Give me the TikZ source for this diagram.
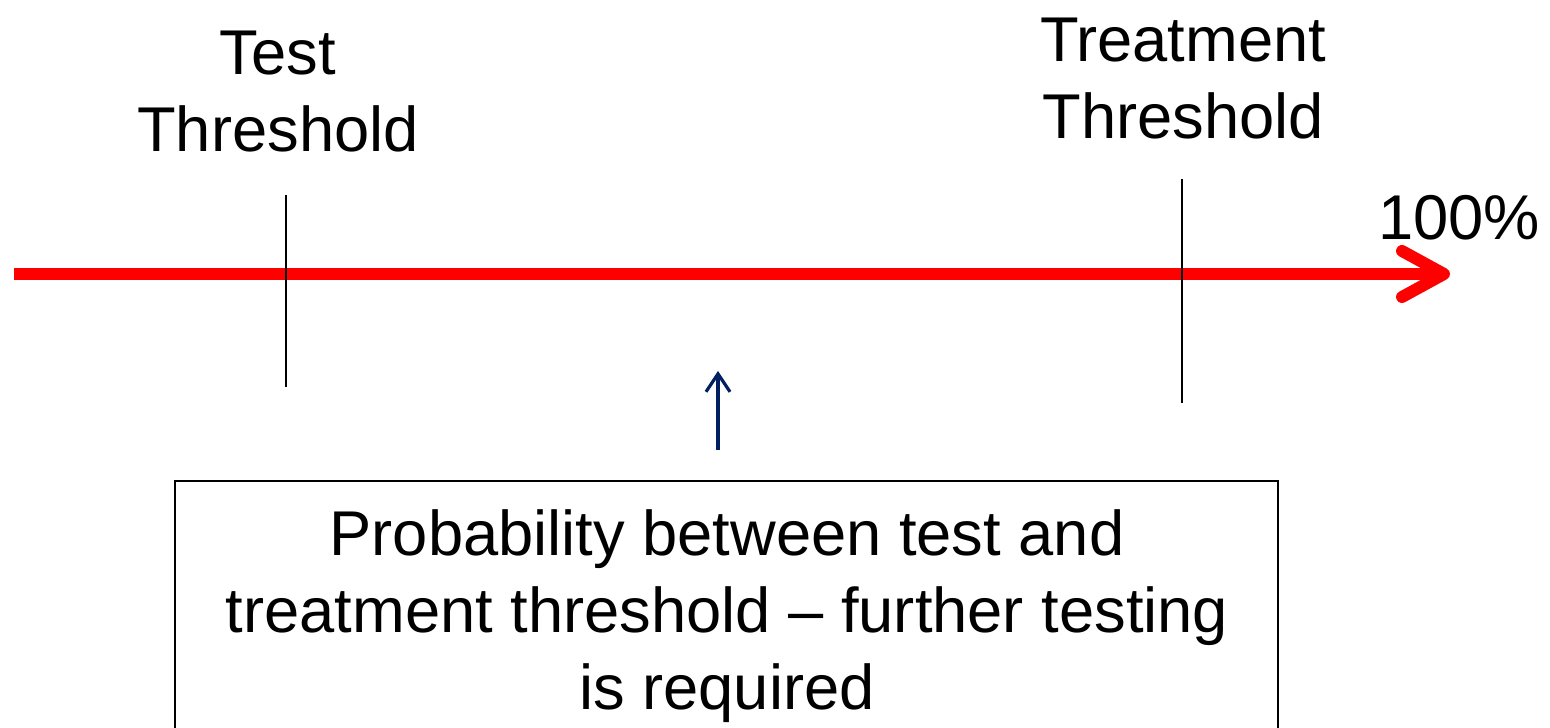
\documentclass[tikz,border=0pt]{standalone}
\usepackage{fontspec}
\setmainfont{Liberation Sans}
\usetikzlibrary{arrows.meta}
\definecolor{arrownavy}{RGB}{0,32,96}
\tikzset{
  label text/.style={align=center, inner sep=0pt, font=\fontsize{18}{21.9}\selectfont},
  axis/.style={red, line width=3.4pt, line cap=butt, -{Straight Barb[round, length=0.42cm, width=0.46cm]}},
  tick/.style={black, line width=0.6pt},
}
\begin{document}
\begin{tikzpicture}
    \useasboundingbox (0,0) rectangle (15.5,7.28);

				% probability axis
				\coordinate (zero) at (0.14,4.54);
				\coordinate (full) at (14.50,4.54);
				\draw [axis] (zero) to (full);
				\node (pct) [label text, anchor=north] at (14.59,5.33) {100\%};

				% thresholds
				\coordinate (testtop) at (2.86,5.33);
				\coordinate (testbot) at (2.86,3.41);
				\coordinate (treattop) at (11.82,5.49);
				\coordinate (treatbot) at (11.82,3.25);
				\draw [tick] (testtop) to (testbot);
				\draw [tick] (treattop) to (treatbot);
				\node (test) [label text, anchor=north] at (2.78,6.98) {Test\\Threshold};
				\node (treat) [label text, anchor=north] at (11.83,7.11) {Treatment\\Threshold};

				% explanation box
				\draw [line width=0.6pt] (1.75,2.47) rectangle (12.78,-0.5);
				\node (note) [label text, anchor=north] at (7.27,2.19) {Probability between test and\\treatment threshold -- further testing\\is required};
				\coordinate (pointfrom) at (7.18,2.78);
				\coordinate (pointto) at (7.18,3.57);
				\draw [arrownavy, line width=0.9pt, -{Straight Barb[length=1.8mm, width=2.4mm]}] (pointfrom) to (pointto);

\end{tikzpicture}
\end{document}
